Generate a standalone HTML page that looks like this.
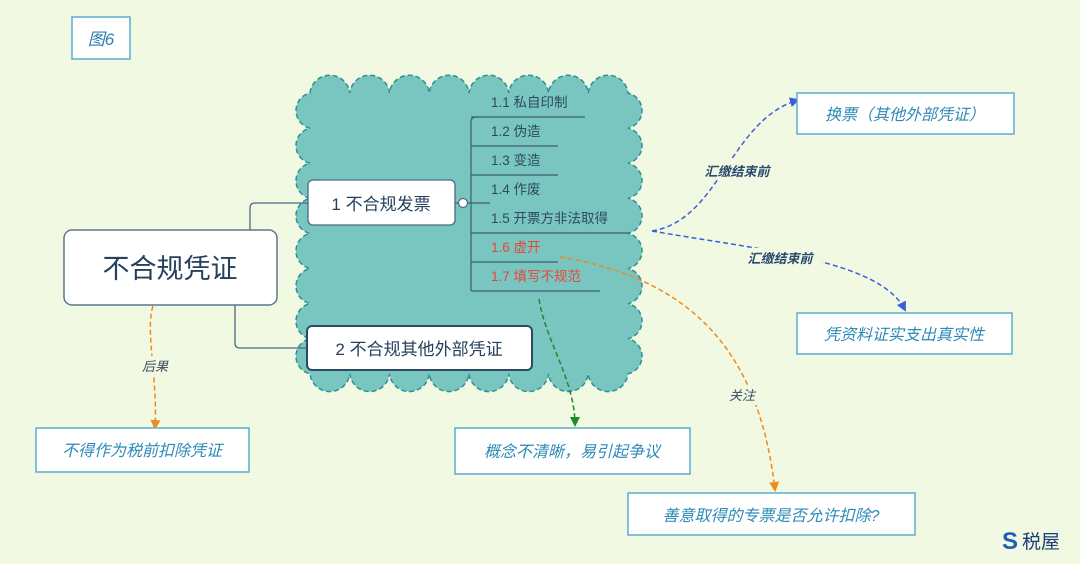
<!DOCTYPE html>
<html><head><meta charset="utf-8"><style>
body{margin:0;width:1080px;height:559px;background:#f1f9e2;overflow:hidden;font-family:"Liberation Sans","Noto Sans CJK SC",sans-serif}
</style></head><body>
<svg width="1080" height="559" xmlns="http://www.w3.org/2000/svg" font-family="Liberation Sans, Noto Sans CJK SC, sans-serif">
<defs>
<marker id="ab" markerWidth="10" markerHeight="10" refX="8" refY="5" orient="auto" markerUnits="userSpaceOnUse"><path d="M0,0 L10,5 L0,10z" fill="#3b5fd9"/></marker>
<marker id="ao" markerWidth="10" markerHeight="10" refX="8" refY="5" orient="auto" markerUnits="userSpaceOnUse"><path d="M0,0 L10,5 L0,10z" fill="#f08a1c"/></marker>
<marker id="ag" markerWidth="10" markerHeight="10" refX="8" refY="5" orient="auto" markerUnits="userSpaceOnUse"><path d="M0,0 L10,5 L0,10z" fill="#1f8a2a"/></marker>
</defs>
<!-- cloud -->
<path d="M310,93 a20,20 0 0 1 39.75,0 a20,20 0 0 1 39.75,0 a20,20 0 0 1 39.75,0 a20,20 0 0 1 39.75,0 a20,20 0 0 1 39.75,0 a20,20 0 0 1 39.75,0 a20,20 0 0 1 39.75,0 a20,20 0 0 1 39.75,0
 a18,18 0 0 1 0,35.1 a18,18 0 0 1 0,35.1 a18,18 0 0 1 0,35.1 a18,18 0 0 1 0,35.1 a18,18 0 0 1 0,35.1 a18,18 0 0 1 0,35.1 a18,18 0 0 1 0,35.1 a18,18 0 0 1 0,35.1
 a20,20 0 0 1 -39.75,0 a20,20 0 0 1 -39.75,0 a20,20 0 0 1 -39.75,0 a20,20 0 0 1 -39.75,0 a20,20 0 0 1 -39.75,0 a20,20 0 0 1 -39.75,0 a20,20 0 0 1 -39.75,0 a20,20 0 0 1 -39.75,0
 a18,18 0 0 1 0,-35.1 a18,18 0 0 1 0,-35.1 a18,18 0 0 1 0,-35.1 a18,18 0 0 1 0,-35.1 a18,18 0 0 1 0,-35.1 a18,18 0 0 1 0,-35.1 a18,18 0 0 1 0,-35.1 a18,18 0 0 1 0,-35.1z"
 fill="#78c6bf" stroke="#2f8f92" stroke-width="1.5" stroke-dasharray="5,3"/>
<!-- fig label -->
<rect x="72" y="17" width="58" height="42" fill="#fff" stroke="#5aaed0" stroke-width="1.5"/>
<text x="101" y="45" font-size="17" font-style="italic" fill="#2c7fb0" text-anchor="middle">图6</text>
<!-- connectors main -->
<path d="M250,231 V208 Q250,203 255,203 H308" fill="none" stroke="#4a6a80" stroke-width="1.3"/>
<path d="M235,305 V343 Q235,348 240,348 H307" fill="none" stroke="#4a6a80" stroke-width="1.3"/>
<rect x="64" y="230" width="213" height="75" rx="8" fill="#fff" stroke="#5a7890" stroke-width="1.5"/>
<text x="170" y="278" font-size="27" fill="#26405e" text-anchor="middle">不合规凭证</text>
<rect x="308" y="180" width="147" height="45" rx="5" fill="#fff" stroke="#4a6a80" stroke-width="1.3"/>
<text x="381" y="210" font-size="17" fill="#26405e" text-anchor="middle">1 不合规发票</text>
<rect x="307" y="326" width="225" height="44" rx="5" fill="#fff" stroke="#2a4a66" stroke-width="2"/>
<text x="419" y="355" font-size="17" fill="#26405e" text-anchor="middle">2 不合规其他外部凭证</text>
<!-- sub-items -->
<g stroke="#3a6070" stroke-width="1.2" fill="none">
<line x1="455" y1="203" x2="490" y2="203"/>
<path d="M471,122 V291 M471,117 H585 M471,146 H558 M471,175 H558 M471,233 H630 M471,262 H558 M471,291 H600"/>
<path d="M476,117 Q471,117 471,122"/>
</g>
<circle cx="463" cy="203" r="4.5" fill="#fff" stroke="#4a6a80" stroke-width="1.2"/>
<g font-size="13.5" fill="#2e4a60">
<text x="491" y="107">1.1  私自印制</text>
<text x="491" y="136">1.2  伪造</text>
<text x="491" y="165">1.3  变造</text>
<text x="491" y="194">1.4  作废</text>
<text x="491" y="223">1.5  开票方非法取得</text>
<text x="491" y="252" fill="#e8453c">1.6  虚开</text>
<text x="491" y="281" fill="#e8453c">1.7  填写不规范</text>
</g>
<!-- blue connectors -->
<path d="M652,231 C720,220 730,120 798,100" fill="none" stroke="#3b5fd9" stroke-width="1.5" stroke-dasharray="5,3" marker-end="url(#ab)"/>
<path d="M652,231 C760,250 880,260 905,310" fill="none" stroke="#3b5fd9" stroke-width="1.5" stroke-dasharray="5,3" marker-end="url(#ab)"/>
<rect x="695" y="160" width="84" height="20" fill="#f1f9e2"/>
<text x="737" y="176" font-size="13" font-style="italic" font-weight="bold" fill="#2a4a70" text-anchor="middle">汇缴结束前</text>
<rect x="738" y="248" width="84" height="20" fill="#f1f9e2"/>
<text x="780" y="263" font-size="13" font-style="italic" font-weight="bold" fill="#2a4a70" text-anchor="middle">汇缴结束前</text>
<rect x="797" y="93" width="217" height="41" fill="#fff" stroke="#5aaed0" stroke-width="1.5"/>
<text x="905" y="120" font-size="16" font-style="italic" fill="#2c8ab8" text-anchor="middle">换票（其他外部凭证）</text>
<rect x="797" y="313" width="215" height="41" fill="#fff" stroke="#5aaed0" stroke-width="1.5"/>
<text x="904" y="340" font-size="16" font-style="italic" fill="#2c8ab8" text-anchor="middle">凭资料证实支出真实性</text>
<!-- green -->
<path d="M539,299 C545,340 575,380 575,425" fill="none" stroke="#1f8a2a" stroke-width="1.5" stroke-dasharray="5,3" marker-end="url(#ag)"/>
<rect x="455" y="428" width="235" height="46" fill="#fff" stroke="#5aaed0" stroke-width="1.5"/>
<text x="572" y="457" font-size="16" font-style="italic" fill="#2c8ab8" text-anchor="middle">概念不清晰，易引起争议</text>
<!-- orange -->
<path d="M560,257 C700,280 760,360 775,490" fill="none" stroke="#f08a1c" stroke-width="1.5" stroke-dasharray="5,3" marker-end="url(#ao)"/>
<rect x="725" y="385" width="34" height="20" fill="#f1f9e2"/>
<text x="742" y="400" font-size="13" font-style="italic" fill="#3a4a60" text-anchor="middle">关注</text>
<rect x="628" y="493" width="287" height="42" fill="#fff" stroke="#5aaed0" stroke-width="1.5"/>
<text x="771" y="521" font-size="16" font-style="italic" fill="#2c8ab8" text-anchor="middle">善意取得的专票是否允许扣除?</text>
<path d="M153,306 C145,330 158,380 155,428" fill="none" stroke="#f08a1c" stroke-width="1.5" stroke-dasharray="5,3" marker-end="url(#ao)"/>
<rect x="137" y="356" width="36" height="20" fill="#f1f9e2"/>
<text x="155" y="371" font-size="13" font-style="italic" fill="#3a4a60" text-anchor="middle">后果</text>
<rect x="36" y="428" width="213" height="44" fill="#fff" stroke="#5aaed0" stroke-width="1.5"/>
<text x="142" y="456" font-size="16" font-style="italic" fill="#2c8ab8" text-anchor="middle">不得作为税前扣除凭证</text>
<!-- logo -->
<text x="1002" y="549" font-size="24" font-weight="bold" fill="#1a5fb4">S</text>
<text x="1022" y="548" font-size="19" fill="#1a3f7a">税屋</text>
</svg>
</body></html>
